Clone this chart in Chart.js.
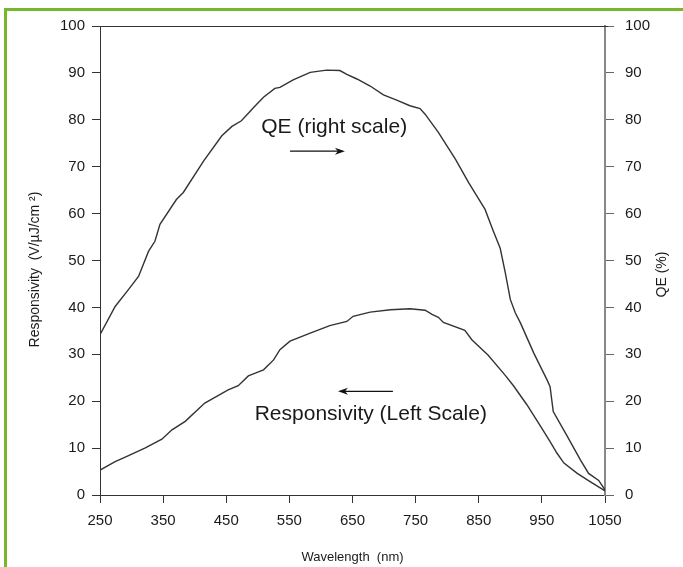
<!DOCTYPE html>
<html lang="en">
<head>
    <meta charset="UTF-8">
    <title>Responsivity and QE vs Wavelength</title>
    <script src="https://cdn.jsdelivr.net/npm/chart.js"></script>
    <style>
        html, body { margin: 0; padding: 0; background: #fff; }
        #wrap { position: relative; width: 683px; height: 567px; }
        #frame {
            position: absolute; left: 4px; top: 8px; right: 0; bottom: 0;
            border-top: 3px solid #76b82a; border-left: 3px solid #76b82a;
            pointer-events: none;
        }
    </style>
</head>
<body>
    <div id="wrap">
        <canvas id="qeChart" width="683" height="567"></canvas>
        <div id="frame"></div>
    </div>
    <script>
        // values
        const qeWavelengths = [250, 274, 295, 311, 327, 337, 345, 371, 382, 414, 443, 459, 474, 496, 509, 527, 535, 556, 583, 609, 630, 641, 657, 678, 699, 720, 741, 757, 765, 786, 813, 834, 860, 873, 884, 892, 900, 908, 916, 937, 958, 963, 968, 989, 1011, 1024, 1040, 1050];
        const qeValues = [34.2, 40.2, 43.8, 46.6, 52, 54.1, 57.7, 63, 64.5, 71.2, 76.6, 78.6, 79.8, 83, 84.8, 86.7, 86.9, 88.5, 90.1, 90.6, 90.5, 89.7, 88.7, 87.2, 85.3, 84.2, 83, 82.4, 81.2, 77.3, 71.6, 66.6, 60.9, 56.3, 52.6, 47.4, 41.7, 38.8, 36.7, 30.3, 24.6, 23.1, 17.8, 12.8, 7.5, 4.6, 3.1, 1.1];

        const respWavelengths = [250, 274, 290, 321, 348, 364, 385, 416, 453, 469, 485, 496, 509, 525, 535, 551, 583, 614, 641, 651, 678, 710, 741, 765, 776, 786, 794, 828, 839, 865, 892, 905, 926, 950, 963, 974, 985, 1006, 1027, 1050];
        const respValues = [5.3, 7.1, 8.1, 10, 11.9, 13.9, 15.7, 19.6, 22.4, 23.3, 25.4, 26, 26.7, 28.8, 31, 32.8, 34.5, 36.1, 37, 38.1, 39, 39.5, 39.7, 39.4, 38.5, 37.9, 36.8, 35.1, 33.1, 29.8, 25.5, 23.3, 19.3, 14.2, 11.4, 8.9, 6.8, 4.6, 2.8, 0.9];

        const xTicks = [250, 350, 450, 550, 650, 750, 850, 950, 1050];

        const FONT = "'Liberation Sans', Arial, sans-serif";
        const TEXT = '#1a1a1a';

        const toPoints = (xs, ys) => xs.map((x, i) => ({ x: x, y: ys[i] }));

        // labels with arrows, top frame line and both vertical axis titles
        const extras = {
            id: 'extras',
            afterDatasetsDraw(chart) {
                const c = chart.ctx;
                const xs = chart.scales.x;
                const ys = chart.scales.y;
                const area = chart.chartArea;
                const midY = (area.top + area.bottom) / 2;

                c.save();
                c.strokeStyle = '#333';
                c.lineWidth = 1;
                c.beginPath();
                c.moveTo(area.left - 6, area.top + 0.5);
                c.lineTo(area.right + 3, area.top + 0.5);
                c.stroke();

                c.fillStyle = TEXT;
                c.font = '21px ' + FONT;
                c.textAlign = 'center';
                c.textBaseline = 'middle';
                c.fillText('QE (right scale)', xs.getPixelForValue(621), ys.getPixelForValue(78.5));
                c.fillText('Responsivity (Left Scale)', xs.getPixelForValue(679), ys.getPixelForValue(17.3));

                const arrow = (x1, x2, yv) => {
                    const px1 = xs.getPixelForValue(x1);
                    const px2 = xs.getPixelForValue(x2);
                    const py = ys.getPixelForValue(yv);
                    const dir = px2 > px1 ? 1 : -1;
                    c.strokeStyle = '#111';
                    c.lineWidth = 1.2;
                    c.beginPath();
                    c.moveTo(px1, py);
                    c.lineTo(px2 - dir * 6, py);
                    c.stroke();
                    c.fillStyle = '#111';
                    c.beginPath();
                    c.moveTo(px2, py);
                    c.lineTo(px2 - dir * 10, py - 3.5);
                    c.lineTo(px2 - dir * 7, py);
                    c.lineTo(px2 - dir * 10, py + 3.5);
                    c.closePath();
                    c.fill();
                };
                arrow(551, 638, 73.3);
                arrow(714, 627, 22.1);

                c.fillStyle = TEXT;
                c.font = '14px ' + FONT;
                c.save();
                c.translate(35, midY + 9);
                c.rotate(-Math.PI / 2);
                c.fillText('Responsivity  (V/\u00b5J/cm \u00b2)', 0, 0);
                c.restore();

                c.translate(662, midY + 14);
                c.rotate(-Math.PI / 2);
                c.fillText('QE (%)', 0, 0);
                c.restore();
            }
        };

        const ctx = document.getElementById('qeChart').getContext('2d');
        const chart = new Chart(ctx, {
            type: 'line',
            data: {
                datasets: [
                    {
                        label: 'QE',
                        data: toPoints(qeWavelengths, qeValues),
                        yAxisID: 'y1',
                        borderColor: '#333',
                        borderWidth: 1.4,
                        pointRadius: 0,
                        tension: 0
                    },
                    {
                        label: 'Responsivity',
                        data: toPoints(respWavelengths, respValues),
                        yAxisID: 'y',
                        borderColor: '#333',
                        borderWidth: 1.4,
                        pointRadius: 0,
                        tension: 0
                    }
                ]
            },
            options: {
                responsive: false,
                animation: false,
                devicePixelRatio: 1,
                layout: { padding: { top: 26, left: 0, right: 0, bottom: 0 } },
                plugins: {
                    legend: { display: false },
                    tooltip: { enabled: false }
                },
                scales: {
                    x: {
                        type: 'linear',
                        min: 250,
                        max: 1050,
                        afterBuildTicks: (axis) => {
                            axis.ticks = xTicks.map(v => ({ value: v }));
                        },
                        afterFit: (axis) => { axis.height = 72; },
                        grid: { drawOnChartArea: false, drawTicks: true, tickLength: 8, color: '#333' },
                        border: { display: true, color: '#333', width: 1 },
                        ticks: {
                            color: TEXT,
                            font: { family: FONT, size: 15 },
                            padding: 9,
                            maxRotation: 0,
                            callback: (v) => String(v)
                        },
                        title: {
                            display: true,
                            text: 'Wavelength  (nm)',
                            color: TEXT,
                            font: { family: FONT, size: 13 },
                            padding: { top: 0, bottom: 2 }
                        }
                    },
                    y: {
                        position: 'left',
                        min: 0,
                        max: 100,
                        afterFit: (axis) => { axis.width = 100; },
                        grid: { drawOnChartArea: false, drawTicks: true, tickLength: 8, color: '#333' },
                        border: { display: true, color: '#333', width: 1 },
                        ticks: { stepSize: 10, color: TEXT, font: { family: FONT, size: 15 }, padding: 7 }
                    },
                    y1: {
                        position: 'right',
                        min: 0,
                        max: 100,
                        afterFit: (axis) => { axis.width = 78; },
                        grid: { drawOnChartArea: false, drawTicks: true, tickLength: 9, color: '#666' },
                        border: { display: true, color: '#888', width: 2 },
                        ticks: { stepSize: 10, color: TEXT, font: { family: FONT, size: 15 }, padding: 11 }
                    }
                }
            },
            plugins: [extras]
        });
    </script>
</body>
</html>
